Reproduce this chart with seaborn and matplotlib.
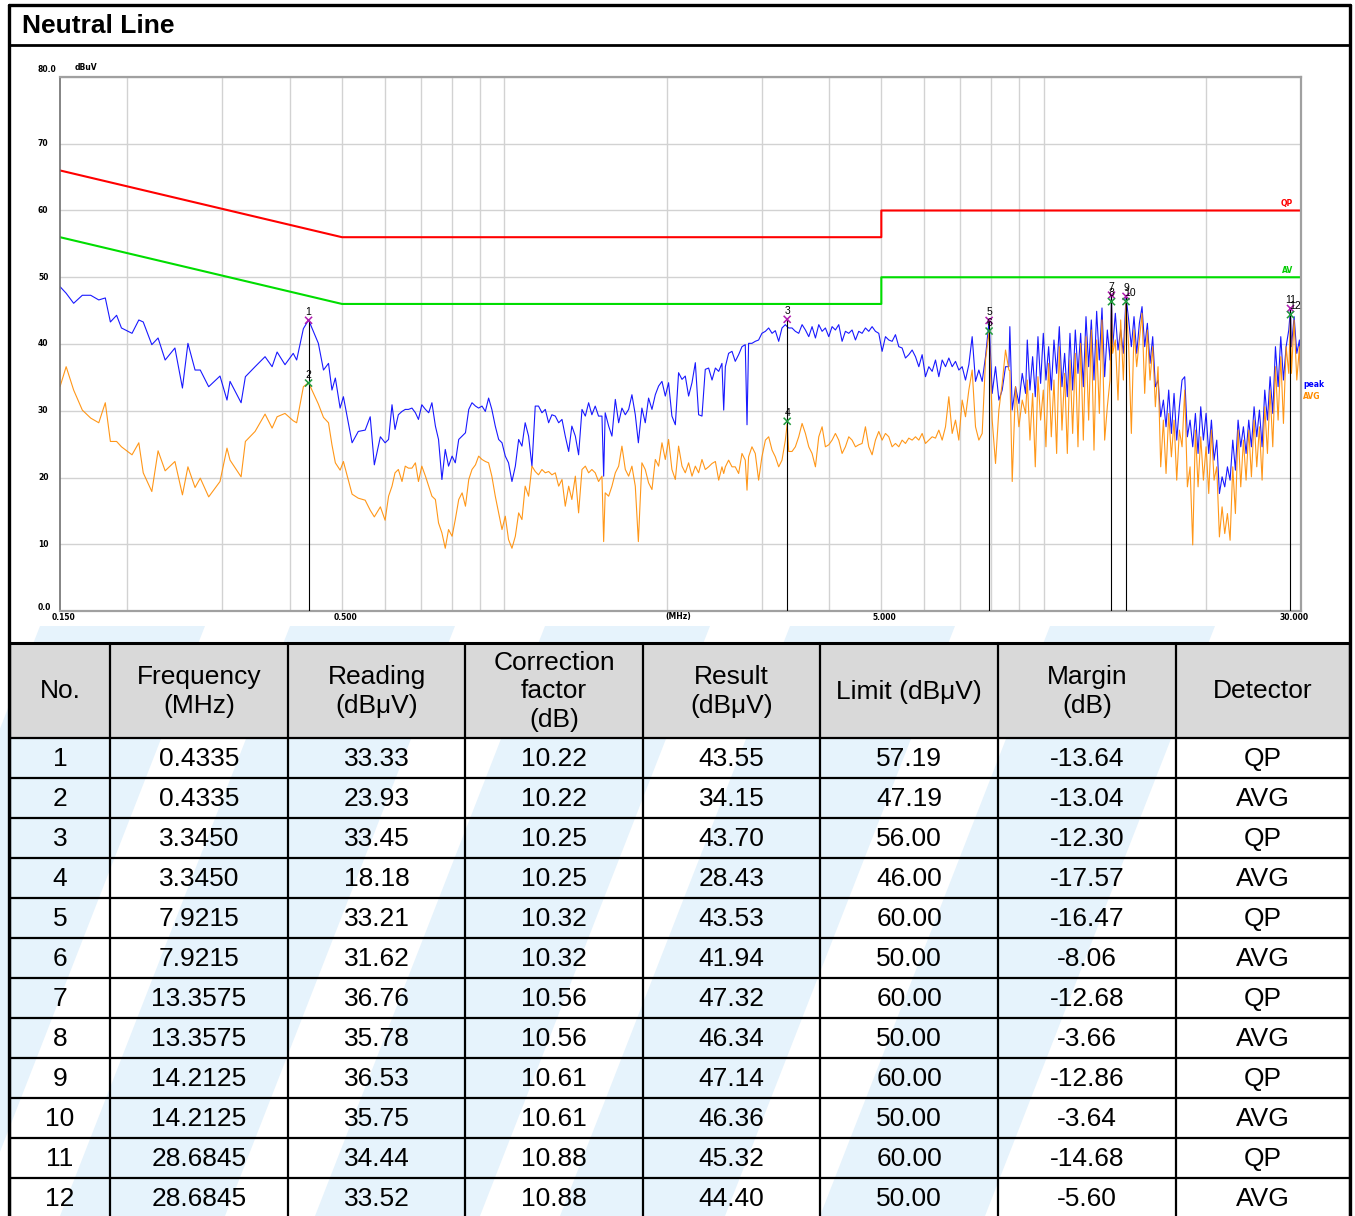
import numpy as np
import pandas as pd
import seaborn as sns
import matplotlib.pyplot as plt
from matplotlib.patches import Polygon, Rectangle
from matplotlib.ticker import LogLocator, NullLocator
from matplotlib.transforms import blended_transform_factory, offset_copy

sns.set_theme(style="white")
plt.rcParams["font.family"] = ["Liberation Sans", "DejaVu Sans"]
plt.rcParams["text.color"] = "black"

# sweep, in four frequency bands (MHz / dBuV)
freq_a = [0.150, 0.154, 0.159, 0.165, 0.171, 0.177, 0.182, 0.186, 0.191, 0.195,
          0.204, 0.210, 0.214, 0.222, 0.228, 0.235, 0.245, 0.253, 0.259, 0.267,
          0.273, 0.283, 0.297, 0.306, 0.310, 0.325, 0.331, 0.345, 0.360, 0.371,
          0.379, 0.392, 0.406, 0.412, 0.424, 0.4335, 0.452, 0.462, 0.472, 0.479,
          0.486, 0.496, 0.503, 0.522, 0.536, 0.552, 0.564, 0.574, 0.589, 0.601]
peak_a = [48.6, 47.6, 46.1, 47.3, 47.3, 46.6, 46.9, 43.3, 44.3, 42.4,
          41.6, 43.6, 43.3, 39.9, 40.9, 37.6, 39.4, 33.4, 40.1, 36.1,
          36.1, 33.6, 35.2, 31.6, 34.4, 31.2, 35.1, 36.6, 38.1, 36.6,
          38.8, 36.9, 38.6, 37.6, 42.3, 43.6, 40.1, 36.1, 37.1, 33.1,
          34.9, 30.4, 32.1, 25.2, 26.9, 27.1, 29.1, 21.9, 26.1, 25.2]
avg_a = [33.6, 36.6, 33.1, 30.1, 28.9, 28.2, 31.2, 25.4, 25.4, 24.6,
         23.4, 25.2, 20.7, 17.9, 24.0, 21.0, 22.4, 17.4, 21.6, 18.5,
         19.9, 17.1, 19.4, 24.4, 22.6, 20.1, 25.4, 26.9, 29.5, 27.4,
         29.1, 29.6, 28.5, 28.2, 33.6, 34.2, 31.0, 29.0, 28.2, 24.9,
         22.2, 21.1, 22.4, 17.5, 16.9, 16.6, 15.1, 14.1, 15.6, 13.6]

freq_b = [0.610, 0.619, 0.627, 0.636, 0.646, 0.655, 0.664, 0.674, 0.684, 0.693,
          0.703, 0.714, 0.724, 0.734, 0.745, 0.755, 0.766, 0.777, 0.788, 0.800,
          0.811, 0.823, 0.835, 0.847, 0.859, 0.871, 0.884, 0.896, 0.909, 0.922,
          0.935, 0.948, 0.962, 0.976, 0.990, 1.004, 1.018, 1.033, 1.048, 1.063,
          1.078, 1.093, 1.109, 1.125, 1.141, 1.157, 1.174, 1.191, 1.208, 1.225,
          1.243, 1.261, 1.279, 1.297, 1.316, 1.334, 1.354, 1.373, 1.393, 1.413,
          1.433, 1.453, 1.474, 1.495, 1.517, 1.528, 1.538, 1.561, 1.583, 1.606,
          1.629, 1.652, 1.676, 1.700, 1.724, 1.749, 1.772, 1.799, 1.825, 1.851,
          1.878, 1.905, 1.932, 1.960, 1.988, 2.016, 2.045, 2.075, 2.104, 2.135,
          2.165, 2.196, 2.228, 2.260, 2.292, 2.325, 2.358]
peak_b = [25.7, 30.9, 27.2, 29.4, 29.9, 30.2, 30.2, 30.4, 29.7, 28.7,
          30.9, 30.2, 29.7, 31.2, 27.7, 25.7, 19.7, 24.2, 21.7, 23.2,
          22.2, 25.7, 26.2, 26.7, 30.2, 31.2, 30.7, 30.4, 30.7, 29.9,
          31.9, 30.2, 27.7, 25.7, 25.2, 23.2, 22.2, 19.4, 21.7, 25.7,
          24.7, 28.2, 26.2, 21.7, 30.7, 30.7, 29.7, 30.2, 28.2, 29.4,
          29.2, 28.2, 28.7, 26.2, 23.9, 27.7, 26.2, 23.4, 30.2, 29.2,
          31.2, 29.4, 30.7, 29.2, 29.2, 20.2, 29.7, 27.7, 26.2, 31.7,
          28.2, 30.4, 29.4, 30.2, 32.4, 29.4, 25.2, 30.4, 28.2, 31.9,
          30.2, 32.4, 33.7, 34.4, 32.2, 34.2, 29.2, 27.9, 35.7, 34.7,
          35.2, 32.2, 34.2, 37.2, 29.4, 29.2, 36.2]
avg_b = [17.2, 18.7, 20.7, 21.2, 19.4, 21.7, 21.4, 21.4, 22.2, 19.4,
         21.7, 20.2, 18.7, 17.2, 16.7, 13.2, 11.7, 9.4, 12.2, 11.2,
         13.7, 16.7, 17.7, 15.7, 19.7, 21.2, 21.9, 23.2, 22.7, 22.4,
         22.2, 20.2, 17.2, 14.7, 12.2, 14.2, 10.7, 9.4, 11.2, 14.7,
         13.7, 18.7, 17.2, 21.7, 20.9, 20.4, 21.2, 20.7, 20.9, 20.4,
         20.7, 18.7, 19.7, 15.7, 18.7, 16.7, 20.2, 14.7, 21.2, 21.7,
         20.7, 21.2, 20.7, 19.4, 20.2, 10.4, 17.7, 17.2, 18.7, 20.7,
         21.7, 24.7, 21.2, 20.2, 21.7, 18.7, 10.4, 22.2, 21.2, 19.2,
         18.2, 22.7, 21.7, 25.2, 22.7, 25.7, 21.2, 19.7, 24.7, 21.7,
         20.7, 22.2, 20.2, 21.7, 20.7, 22.7, 21.2]

freq_c = [2.392, 2.427, 2.462, 2.497, 2.532, 2.551, 2.569, 2.605, 2.643, 2.680,
          2.719, 2.758, 2.797, 2.818, 2.837, 2.878, 2.919, 2.961, 3.003, 3.048,
          3.091, 3.136, 3.180, 3.226, 3.272, 3.319, 3.345, 3.367, 3.415, 3.464,
          3.514, 3.565, 3.616, 3.668, 3.720, 3.774, 3.828, 3.883, 3.938, 3.995,
          4.052, 4.110, 4.169, 4.229, 4.289, 4.351, 4.413, 4.477, 4.541, 4.606,
          4.672, 4.739, 4.807, 4.876, 4.946, 5.017, 5.089, 5.162, 5.236, 5.311,
          5.387, 5.464, 5.543, 5.622, 5.703, 5.785, 5.868, 5.952, 6.037, 6.124,
          6.212, 6.301, 6.391, 6.483, 6.576, 6.670, 6.766, 6.863, 6.961, 7.061,
          7.162, 7.265, 7.369, 7.475, 7.582, 7.691, 7.801, 7.9215, 8.027, 8.142,
          8.259, 8.377, 8.497, 8.619, 8.655, 8.743, 8.868, 8.996, 9.125, 9.256]
peak_c = [36.4, 34.6, 36.4, 35.9, 37.1, 30.1, 36.6, 38.6, 38.9, 37.4,
          38.4, 39.6, 39.9, 27.9, 40.1, 40.1, 40.4, 40.6, 41.6, 41.9,
          42.4, 41.6, 42.0, 40.4, 42.4, 42.9, 42.6, 42.4, 42.4, 41.9,
          41.6, 42.9, 42.1, 41.1, 42.6, 40.9, 42.9, 41.9, 42.4, 41.1,
          42.6, 42.1, 42.9, 40.4, 41.9, 41.6, 42.1, 40.6, 41.9, 41.6,
          42.4, 41.9, 42.6, 41.9, 41.6, 38.9, 41.1, 40.6, 40.4, 41.4,
          39.6, 39.4, 37.9, 38.4, 39.1, 38.1, 36.6, 38.4, 35.1, 36.6,
          35.9, 37.6, 35.1, 37.6, 36.6, 37.9, 36.6, 37.4, 36.1, 36.6,
          34.6, 36.9, 41.1, 34.4, 36.1, 34.4, 38.1, 43.5, 32.6, 36.6,
          31.6, 33.1, 36.6, 36.6, 42.6, 30.1, 33.6, 31.1, 35.6, 32.6]
avg_c = [21.6, 22.1, 22.4, 19.6, 21.6, 20.6, 21.6, 22.6, 21.6, 21.6,
         20.6, 23.6, 22.6, 18.1, 23.1, 24.6, 23.6, 19.6, 23.1, 25.6,
         26.1, 24.1, 23.1, 21.6, 22.6, 25.6, 28.0, 23.9, 23.9, 24.6,
         26.1, 28.1, 26.6, 24.6, 23.6, 21.6, 26.1, 27.6, 24.6, 24.9,
         25.6, 26.6, 25.6, 23.6, 24.6, 26.1, 25.6, 24.6, 24.9, 25.1,
         27.6, 24.6, 23.4, 25.6, 26.9, 25.6, 26.6, 26.1, 24.6, 25.1,
         24.6, 25.6, 25.1, 25.9, 25.6, 26.1, 25.6, 26.6, 25.1, 25.6,
         26.1, 25.9, 27.1, 25.6, 27.6, 32.1, 26.6, 28.6, 25.6, 31.6,
         29.1, 33.1, 36.1, 27.6, 25.6, 26.6, 37.6, 41.9, 28.6, 22.1,
         30.1, 34.1, 39.1, 36.1, 36.0, 19.4, 33.6, 27.6, 31.6, 29.6]

freq_d = [9.324, 9.431, 9.539, 9.648, 9.759, 9.870, 9.984, 10.098, 10.214, 10.331,
          10.449, 10.569, 10.690, 10.812, 10.936, 11.062, 11.188, 11.317, 11.446, 11.577,
          11.710, 11.844, 11.980, 12.117, 12.256, 12.396, 12.538, 12.682, 12.827, 12.974,
          13.123, 13.273, 13.3575, 13.426, 13.579, 13.735, 13.892, 14.052, 14.2125, 14.375,
          14.540, 14.707, 14.875, 15.046, 15.218, 15.392, 15.569, 15.747, 15.928, 16.110,
          16.295, 16.482, 16.670, 16.861, 17.054, 17.250, 17.448, 17.648, 17.850, 18.054,
          18.261, 18.470, 18.682, 18.896, 19.113, 19.331, 19.553, 19.777, 20.004, 20.233,
          20.465, 20.699, 20.936, 21.176, 21.419, 21.664, 21.913, 22.164, 22.418, 22.673,
          22.933, 23.196, 23.461, 23.730, 24.002, 24.277, 24.555, 24.837, 25.121, 25.409,
          25.700, 25.995, 26.293, 26.594, 26.899, 27.207, 27.518, 27.834, 28.153, 28.475,
          28.6845, 28.801, 29.132, 29.466, 29.803, 30.000]
peak_d = [40.6, 33.1, 38.1, 32.1, 41.1, 34.1, 41.6, 34.6, 39.6, 33.1,
          40.6, 35.6, 42.6, 33.6, 38.6, 32.1, 41.6, 33.1, 42.1, 35.6,
          41.6, 33.6, 44.1, 36.6, 43.6, 34.6, 44.9, 37.6, 45.4, 35.1,
          42.1, 37.6, 47.3, 39.6, 44.6, 39.1, 42.1, 38.6, 47.1, 43.6,
          39.6, 44.1, 38.6, 43.1, 45.6, 39.6, 43.1, 37.1, 41.1, 33.6,
          34.6, 29.1, 31.6, 27.6, 33.1, 26.6, 32.6, 25.6, 30.6, 34.6,
          35.1, 26.1, 28.6, 24.6, 29.6, 23.6, 30.6, 25.6, 29.6, 23.6,
          28.6, 22.6, 25.6, 17.6, 20.1, 18.6, 21.6, 19.6, 25.6, 21.1,
          28.6, 24.6, 27.6, 23.6, 28.6, 24.6, 30.6, 26.1, 30.1, 24.6,
          33.1, 28.6, 35.1, 29.6, 39.6, 33.6, 41.1, 34.6, 39.6, 42.1,
          45.3, 39.6, 44.1, 38.6, 40.6, 33.6]
avg_d = [34.6, 25.6, 32.6, 21.6, 35.1, 28.6, 33.1, 24.6, 37.1, 26.1,
         34.6, 23.6, 39.6, 27.1, 35.6, 23.6, 37.6, 26.6, 38.6, 24.6,
         40.1, 25.6, 41.1, 28.6, 42.1, 24.1, 40.6, 29.6, 43.6, 25.6,
         30.6, 34.6, 46.3, 38.6, 40.6, 31.6, 43.6, 34.6, 46.3, 39.6,
         26.6, 42.1, 36.6, 40.6, 44.6, 32.6, 42.1, 34.6, 39.6, 30.6,
         36.6, 21.6, 28.6, 20.6, 29.6, 23.1, 28.6, 19.6, 27.1, 24.6,
         33.1, 18.6, 21.6, 9.9, 27.1, 18.6, 26.1, 19.6, 24.6, 17.6,
         27.1, 19.6, 21.6, 11.1, 15.6, 11.6, 14.6, 10.6, 21.6, 14.6,
         27.1, 18.6, 25.6, 19.6, 27.1, 20.1, 28.6, 21.6, 27.6, 19.6,
         30.6, 23.6, 33.1, 24.6, 36.6, 28.6, 38.1, 28.1, 39.6, 35.6,
         44.4, 35.6, 43.6, 34.6, 39.6, 32.1]

# limit lines (QP / AV)
limit_freq = [0.15, 0.5, 5.0, 5.0, 30.0]
qp_limit = [66, 56, 56, 60, 60]
av_limit = [56, 46, 46, 50, 50]

# final measurement table
marker_no = [1, 2, 3, 4, 5, 6, 7, 8, 9, 10, 11, 12]
marker_freq = [0.4335, 0.4335, 3.3450, 3.3450, 7.9215, 7.9215,
               13.3575, 13.3575, 14.2125, 14.2125, 28.6845, 28.6845]
reading = [33.33, 23.93, 33.45, 18.18, 33.21, 31.62, 36.76, 35.78, 36.53, 35.75, 34.44, 33.52]
correction = [10.22, 10.22, 10.25, 10.25, 10.32, 10.32, 10.56, 10.56, 10.61, 10.61, 10.88, 10.88]
result = [43.55, 34.15, 43.70, 28.43, 43.53, 41.94, 47.32, 46.34, 47.14, 46.36, 45.32, 44.40]
limit = [57.19, 47.19, 56.00, 46.00, 60.00, 50.00, 60.00, 50.00, 60.00, 50.00, 60.00, 50.00]
margin = [-13.64, -13.04, -12.30, -17.57, -16.47, -8.06, -12.68, -3.66, -12.86, -3.64, -14.68, -5.60]
detector = ["QP", "AVG", "QP", "AVG", "QP", "AVG", "QP", "AVG", "QP", "AVG", "QP", "AVG"]

headers = ["No.", "Frequency\n(MHz)", "Reading\n(dBμV)", "Correction\nfactor\n(dB)",
           "Result\n(dBμV)", "Limit (dBμV)", "Margin\n(dB)", "Detector"]

y_ticks = [0, 10, 20, 30, 40, 50, 60, 70, 80]
y_tick_labels = ["0.0", "10", "20", "30", "40", "50", "60", "70", "80.0"]
x_ticks = [0.15, 0.5, 5.0, 30.0]
x_tick_labels = ["0.150", "0.500", "5.000", "30.000"]

traces = pd.DataFrame({"freq": freq_a + freq_b + freq_c + freq_d,
                       "peak": peak_a + peak_b + peak_c + peak_d,
                       "AVG": avg_a + avg_b + avg_c + avg_d})
traces = traces.melt(id_vars="freq", var_name="trace", value_name="level")
limits = pd.DataFrame({"freq": limit_freq, "QP": qp_limit, "AV": av_limit})
limits = limits.melt(id_vars="freq", var_name="limit", value_name="level")
marks = pd.DataFrame({"no": marker_no, "freq": marker_freq, "result": result, "detector": detector})

fig = plt.figure(figsize=(13.55, 12.16), dpi=100)

# page layer, pixel units, y down
bg = fig.add_axes([0, 0, 1, 1], zorder=0)
bg.set_xlim(0, 1355)
bg.set_ylim(1216, 0)
bg.axis("off")

# faint watermark stripes behind the table
for left in [40, 290, 545, 790, 1050]:
    bg.add_patch(Polygon([(left, 626), (left + 165, 626), (left - 65, 1216), (left - 230, 1216)],
                         closed=True, fc="#e6f3fc", ec="none", zorder=0))

# frame and title
bg.plot([9, 9], [5, 1216], color="black", lw=2.4, zorder=5)
bg.plot([1350, 1350], [5, 1216], color="black", lw=2.4, zorder=5)
bg.plot([9, 1350], [5, 5], color="black", lw=2.4, zorder=5)
bg.plot([9, 1350], [45, 45], color="black", lw=2.0, zorder=5)
bg.text(22, 26, "Neutral Line", fontsize=19, fontweight="bold", color="black", ha="left", va="center")

# table
col_edges = [10, 110, 288, 465, 643, 820, 998, 1176, 1350]
head_top, head_bot, row_h = 643, 738, 40
bg.add_patch(Rectangle((10, head_top), 1340, head_bot - head_top, fc="#d9d9d9", ec="none", zorder=1))
for i, h in enumerate(headers):
    cx = (col_edges[i] + col_edges[i + 1]) / 2
    bg.text(cx, (head_top + head_bot) / 2 + 1, h, fontsize=19, color="black", ha="center", va="center",
            linespacing=1.25, zorder=3)
for r in range(len(marker_no)):
    cells = [str(marker_no[r]), f"{marker_freq[r]:.4f}", f"{reading[r]:.2f}", f"{correction[r]:.2f}",
             f"{result[r]:.2f}", f"{limit[r]:.2f}", f"{margin[r]:.2f}", detector[r]]
    cy = head_bot + row_h * r + row_h / 2 + 1
    for i, c in enumerate(cells):
        cx = (col_edges[i] + col_edges[i + 1]) / 2
        bg.text(cx, cy, c, fontsize=19, color="black", ha="center", va="center", zorder=3)
for r in range(len(marker_no) + 1):
    y = head_bot + row_h * r
    bg.plot([10, 1350], [y, y], color="black", lw=1.6, zorder=4)
bg.plot([10, 1350], [head_top, head_top], color="black", lw=2.2, zorder=4)
for x in col_edges:
    bg.plot([x, x], [head_top, 1216], color="black", lw=1.6, zorder=4)

# chart
ax = fig.add_axes([60 / 1355, (1216 - 611) / 1216, 1241 / 1355, 534 / 1216], zorder=2)
ax.set_facecolor("white")
ax.set_xscale("log")

sns.lineplot(data=traces, x="freq", y="level", hue="trace", hue_order=["peak", "AVG"],
             palette={"peak": "#0000ff", "AVG": "#ff8c00"}, estimator=None, sort=False,
             lw=0.8, alpha=0.9, legend=False, ax=ax)
sns.lineplot(data=limits, x="freq", y="level", hue="limit",
             palette={"QP": "#ff0000", "AV": "#00dd00"}, estimator=None, sort=False,
             lw=1.5, legend=False, ax=ax)

tops = marks.groupby("freq")["result"].max()
ax.vlines(tops.index, 0, tops.values, color="black", lw=0.8, zorder=4)
sns.scatterplot(data=marks, x="freq", y="result", hue="detector",
                palette={"QP": "#b01cb0", "AVG": "#1f9a3c"}, marker="x", s=26,
                linewidth=1.1, legend=False, ax=ax, zorder=6)
# numbers sit just above their own cross; two-digit ones nudged right as in the original
for no, f, r in zip(marker_no, marker_freq, result):
    dx = 3 if no >= 10 and no % 2 == 0 else 0
    ax.annotate(str(no), (f, r), xytext=(dx, 2.5), textcoords="offset points",
                ha="center", va="bottom", fontsize=7.5, color="black", zorder=7)

ax.set_xlim(0.15, 30)
ax.set_ylim(0, 80)
ax.xaxis.set_major_locator(LogLocator(base=10, subs=np.arange(1, 10)))
ax.xaxis.set_minor_locator(NullLocator())
ax.set_yticks(y_ticks)
ax.grid(True, color="#d2d2d2", lw=1.0)
ax.tick_params(length=0, labelbottom=False, labelleft=False)
ax.set_xlabel("")
ax.set_ylabel("")
for s in ax.spines.values():
    s.set_color("#a0a0a0")
    s.set_linewidth(1.6)
ax.spines["left"].set_color("#707070")
ax.spines["left"].set_linewidth(1.2)

small = dict(fontsize=5.5, fontweight="bold", family="DejaVu Sans")
ytf = blended_transform_factory(ax.transAxes, ax.transData)
for v, lab in zip(y_ticks, y_tick_labels):
    dy = 7 if v == 80 else (4 if v == 0 else 0)
    ax.text(0, v, lab, transform=offset_copy(ytf, fig=fig, x=-22, y=dy, units="dots"),
            ha="left", va="center", color="black", **small)
for f, lab in zip(x_ticks, x_tick_labels):
    dx = -7 if f == 30.0 else 3
    ax.text(f, 0, lab, transform=offset_copy(ax.transData, fig=fig, x=dx, y=-6, units="dots"),
            ha="center", va="center", color="black", **small)
ax.text(0.498, 0, "(MHz)", transform=offset_copy(ax.transAxes, fig=fig, y=-6, units="dots"),
        ha="center", va="center", color="black", **small)
ax.text(0.012, 1, "dBuV", transform=offset_copy(ax.transAxes, fig=fig, y=9, units="dots"),
        ha="left", va="center", color="black", **small)

ax.text(30, 60, "QP", color="#ff0000",
        transform=offset_copy(ax.transData, fig=fig, x=-8, y=7, units="dots"),
        ha="right", va="center", **small)
ax.text(30, 50, "AV", color="#00cc00",
        transform=offset_copy(ax.transData, fig=fig, x=-8, y=7, units="dots"),
        ha="right", va="center", **small)
ax.text(1, 34.0, "peak", color="#0000ff",
        transform=offset_copy(ytf, fig=fig, x=2, units="dots"), ha="left", va="center", **small)
ax.text(1, 32.2, "AVG", color="#ff8c00",
        transform=offset_copy(ytf, fig=fig, x=2, units="dots"), ha="left", va="center", **small)

fig.savefig("out.png", dpi=100)
